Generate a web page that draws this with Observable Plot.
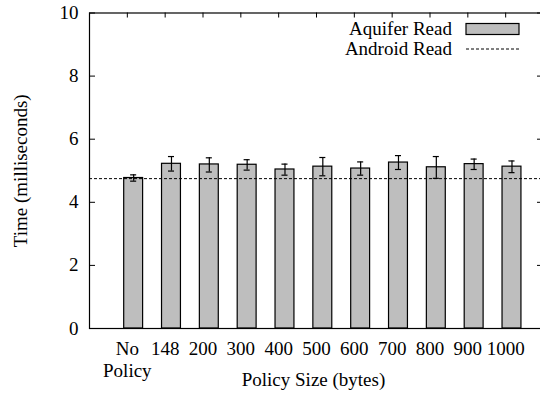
<!DOCTYPE html>
<html>
<head>
<meta charset="utf-8">
<script src="https://cdn.jsdelivr.net/npm/d3@7"></script>
<script src="https://cdn.jsdelivr.net/npm/@observablehq/plot@0.6"></script>
<style>
  html, body { margin: 0; padding: 0; background: #fff; overflow: hidden; }
  svg { display: block; }
  svg, svg text { font-family: "Liberation Serif", "Times New Roman", Times, serif !important; }
</style>
</head>
<body>
<div id="chart"></div>
<script>
const categories = ["No\nPolicy", "148", "200", "300", "400", "500", "600", "700", "800", "900", "1000"];
const aquiferMean = [4.77, 5.22, 5.20, 5.19, 5.04, 5.13, 5.07, 5.26, 5.11, 5.21, 5.13];
const aquiferLow  = [4.67, 4.99, 4.96, 5.02, 4.86, 4.84, 4.86, 5.04, 4.76, 5.04, 4.94];
const aquiferHigh = [4.87, 5.45, 5.41, 5.35, 5.21, 5.42, 5.28, 5.48, 5.45, 5.37, 5.31];
const androidRead = 4.75;
const yTicks = [0, 2, 4, 6, 8, 10];
const seriesNames = ["Aquifer Read", "Android Read"];

const rows = categories.map((label, i) => ({
  i, label, mean: aquiferMean[i], lo: aquiferLow[i], hi: aquiferHigh[i]
}));
const xIdx = categories.map((_, i) => i);

const FONT = '"Liberation Serif", "Times New Roman", Times, serif';
const W = 540, H = 395;
const mL = 89, mT = 12.5, mB = 67, mR = -3;
const frameW = W - mL - mR, frameH = H - mT - mB;
const barOffset = 0.167, barHalf = 0.25, capHalf = 0.08;

const legend = (index, scales, values, dims) => {
  const g = d3.create("svg:g")
    .attr("font-family", FONT).attr("font-size", 19).attr("fill", "#000");
  const textRight = 452, swX1 = 466, swX2 = 519;
  const rowsY = [29, 49];
  g.append("text").attr("x", textRight).attr("y", rowsY[0])
    .attr("text-anchor", "end").attr("dy", "0.33em").text(seriesNames[0]);
  g.append("rect").attr("x", swX1).attr("y", rowsY[0] - 5.5)
    .attr("width", swX2 - swX1).attr("height", 11)
    .attr("fill", "#bebebe").attr("stroke", "#000").attr("stroke-width", 1.2);
  g.append("text").attr("x", textRight).attr("y", rowsY[1])
    .attr("text-anchor", "end").attr("dy", "0.33em").text(seriesNames[1]);
  g.append("line").attr("x1", swX1).attr("x2", swX2)
    .attr("y1", rowsY[1]).attr("y2", rowsY[1])
    .attr("stroke", "#000").attr("stroke-dasharray", "3,2").attr("stroke-width", 1);
  return g.node();
};

const chart = Plot.plot({
  width: W,
  height: H,
  marginLeft: mL,
  marginTop: mT,
  marginBottom: mB,
  marginRight: mR,
  style: { fontFamily: FONT, fontSize: "19px", color: "#000", background: "#fff" },
  x: { type: "linear", domain: [-1, 11], range: [mL, W - mR], axis: null },
  y: { domain: [0, 10], range: [H - mB, mT], axis: null },
  marks: [
    Plot.rectY(rows, {
      x1: d => d.i + barOffset - barHalf,
      x2: d => d.i + barOffset + barHalf,
      y1: 0, y2: "mean",
      fill: "#bebebe", stroke: "#000", strokeWidth: 1.2
    }),
    Plot.ruleX(rows, { x: d => d.i + barOffset, y1: "lo", y2: "hi", stroke: "#000", strokeWidth: 1.2 }),
    Plot.ruleY(rows, { y: "lo", x1: d => d.i + barOffset - capHalf, x2: d => d.i + barOffset + capHalf, stroke: "#000", strokeWidth: 1.2 }),
    Plot.ruleY(rows, { y: "hi", x1: d => d.i + barOffset - capHalf, x2: d => d.i + barOffset + capHalf, stroke: "#000", strokeWidth: 1.2 }),
    Plot.ruleY([androidRead], { stroke: "#000", strokeWidth: 1, strokeDasharray: "3,2" }),
    Plot.tickY(yTicks, { y: d => d, insetRight: frameW - 6, stroke: "#000", strokeWidth: 1 }),
    Plot.tickY(yTicks, { y: d => d, insetLeft: frameW - 6, stroke: "#000", strokeWidth: 1 }),
    Plot.tickX(xIdx, { x: d => d, insetBottom: frameH - 5, stroke: "#000", strokeWidth: 1 }),
    Plot.frame({ stroke: "#000", strokeWidth: 1.2 }),
    Plot.axisY(yTicks, { anchor: "left", tickSize: 0, tickPadding: 11, fontSize: 19, fill: "#000", fontFamily: FONT }),
    Plot.axisX(xIdx, {
      anchor: "bottom", tickSize: 0, tickPadding: 10, fontSize: 19, fill: "#000", fontFamily: FONT,
      lineHeight: 1.2, tickFormat: i => categories[i]
    }),
    Plot.text(["Time (milliseconds)"], {
      frameAnchor: "left", rotate: -90, dx: -69, text: d => d, fontFamily: FONT,
      textAnchor: "middle", lineAnchor: "middle", fontSize: 19, fill: "#000"
    }),
    Plot.text(["Policy Size (bytes)"], {
      frameAnchor: "bottom", dy: 51, dx: -3, text: d => d, fontFamily: FONT,
      textAnchor: "middle", lineAnchor: "middle", fontSize: 19, fill: "#000"
    }),
    legend
  ]
});
document.getElementById("chart").appendChild(chart);
</script>
</body>
</html>
